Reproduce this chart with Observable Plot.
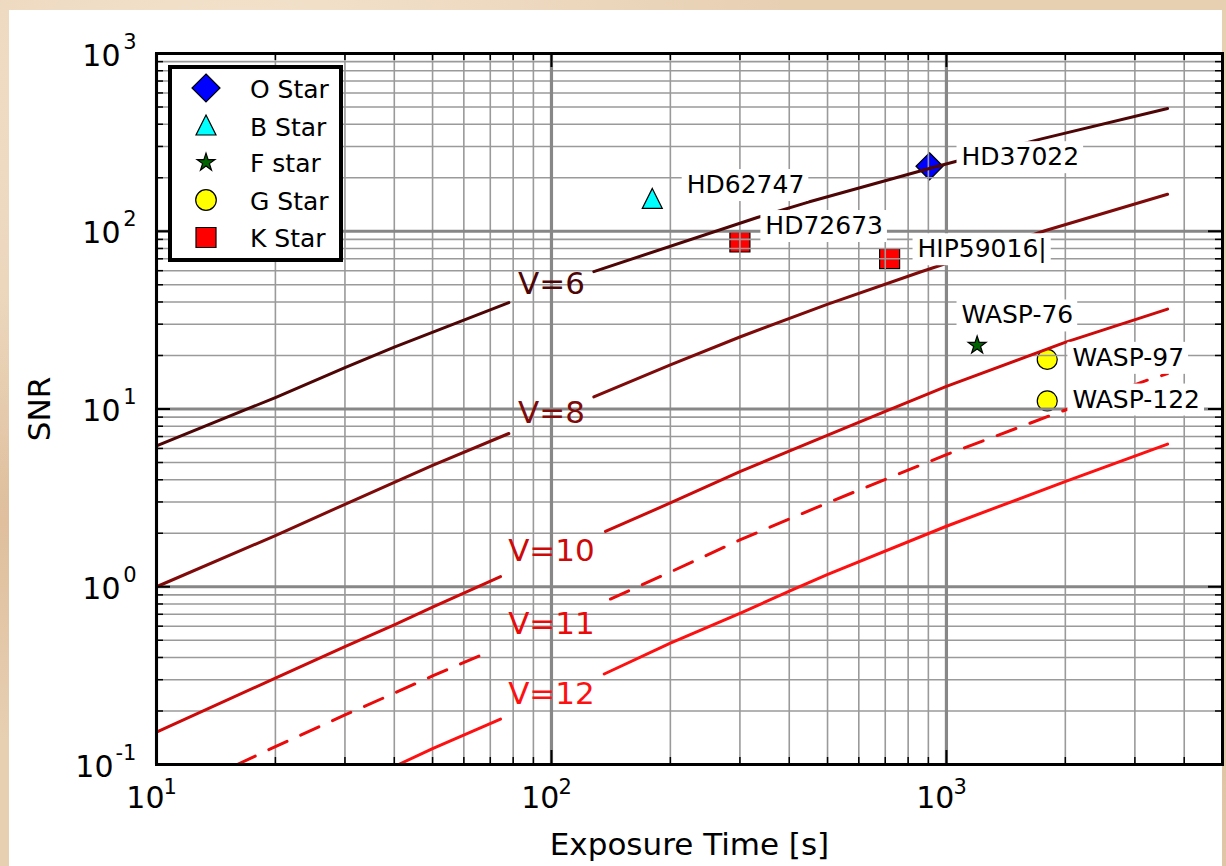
<!DOCTYPE html>
<html>
<head>
<meta charset="utf-8">
<script src="https://cdn.jsdelivr.net/npm/d3@7"></script>
<script src="https://cdn.jsdelivr.net/npm/@observablehq/plot@0.6"></script>
<style>
  html, body { margin: 0; padding: 0; }
  body {
    width: 1226px; height: 866px; overflow: hidden; position: relative;
    background-color: #e7cfb2;
    background-image:
      radial-gradient(ellipse at 20% 10%, rgba(255,245,230,0.55), rgba(255,245,230,0) 40%),
      radial-gradient(ellipse at 80% 90%, rgba(200,160,120,0.35), rgba(200,160,120,0) 45%),
      radial-gradient(ellipse at 0% 60%, rgba(215,175,135,0.5), rgba(215,175,135,0) 30%);
  }
  #card { position: absolute; left: 9px; top: 10px; width: 1213px; height: 856px; background: #ffffff; }
  #chart { position: absolute; left: 0; top: 0; width: 1226px; height: 866px; }
  #legend { position: absolute; left: 166px; top: 63px; }
</style>
</head>
<body>
<div id="card"></div>
<div id="chart"></div>
<svg id="legend" width="180" height="202"></svg>
<script>
// ---- SNR curves for stars of V magnitude 6, 8, 10, 11, 12 (null = break for the inline label)
const exposureV6  = [10, 20, 30, 40, 78, null, 128, 332, 443, 929, 1055, 1730, 3630];
const snrV6       = [6.2, 11.6, 17.1, 22.3, 39.7, null, 59.3, 119.5, 145, 229, 247, 330, 490];

const exposureV8  = [10, 20, 30, 40, 50, 78, null, 128, 200, 301, 499, 859, 1783, 3630];
const snrV8       = [1.0, 1.94, 2.91, 3.87, 4.82, 7.28, null, 11.7, 17.7, 25.5, 38.8, 59, 101, 161.5];

const exposureV10 = [10, 20, 30, 40, 50, 74.3, null, 137, 200, 301, 499, 693, 1000, 2005, 3630];
const snrV10      = [0.152, 0.306, 0.461, 0.611, 0.768, 1.14, null, 2.05, 2.96, 4.46, 7.1, 9.6, 13.4, 23.8, 36.5];

const exposureV11 = [16.0, 20, 30, 40, 50, 69.3, null, 141, 200, 301, 499, 1000, 1836, 3245, 3630];
const snrV11      = [0.1, 0.126, 0.190, 0.252, 0.315, 0.43, null, 0.853, 1.21, 1.84, 2.96, 5.54, 9.2, 14.6, 15.8];

const exposureV12 = [41, 50, 74.3, null, 136, 200, 301, 403, 499, 1000, 2005, 3630];
const snrV12      = [0.1, 0.123, 0.180, null, 0.323, 0.482, 0.711, 0.95, 1.17, 2.19, 3.92, 6.35];

const curveNames = ["V=6", "V=8", "V=10", "V=11", "V=12"];
const curveLabelExposure = [100, 100, 100, 100, 100];
const curveLabelSNR = [50.3, 9.5, 1.58, 0.62, 0.25];

// ---- observed targets
const starNames    = ["HD37022", "HD62747", "HD72673", "HIP59016|", "WASP-76", "WASP-97", "WASP-122"];
const starTypes    = ["O", "B", "K", "K", "F", "G", "G"];
const starExposure = [906, 180, 300, 718, 1196, 1800, 1800];
const starSNR      = [232, 153, 87, 70.2, 22.8, 19.0, 11.1];
const starLabelExposure = [1092, 220, 348, 845, 1092, 2084, 2084];
const starLabelSNR      = [261, 182, 107, 79.2, 33.6, 19.4, 11.3];

const legendTypes  = ["O", "B", "F", "G", "K"];
const legendLabels = ["O Star", "B Star", "F star", "G Star", "K Star"];

// ---- axes
const xTickValues = [10, 100, 1000];
const xTickExponents = ["1", "2", "3"];
const yTickValues = [0.1, 1, 10, 100, 1000];
const yTickExponents = ["-1", "0", "1", "2", "3"];

// ---- styles
const curveColors = ["#4d0505", "#7f0a0a", "#cc0a0a", "#ea0a0a", "#ff1010"];
const curveDash = [null, null, null, "20,15", null];
const FONT = "DejaVu Sans";
const NAME_INK = "#000001"; // near-black, also used to find the name labels for their boxes

const half = size => Math.sqrt(size / Math.PI);
function starPoints(R) {
  const pts = [];
  for (let i = 0; i < 10; i++) {
    const a = -Math.PI / 2 + i * Math.PI / 5;
    const r = i % 2 ? R * 0.381966 : R;
    pts.push([r * Math.cos(a), r * Math.sin(a)]);
  }
  return pts;
}
const shapes = {
  O: h => [[0, -h], [h, 0], [0, h], [-h, 0]],
  B: h => [[0, -h], [h, h], [-h, h]],
  F: h => starPoints(h),
  K: h => [[-h, -h], [h, -h], [h, h], [-h, h]]
};
const symbolOf = type => ({
  draw(c, size) {
    const h = half(size);
    if (type === "G") { c.moveTo(h, 0); c.arc(0, 0, h, 0, 2 * Math.PI); c.closePath(); return; }
    shapes[type](h).forEach(([x, y], i) => i ? c.lineTo(x, y) : c.moveTo(x, y));
    c.closePath();
  }
});
const markerStyle = {
  O: {fill: "#0000ff", r: 13.5},
  B: {fill: "#00ffff", r: 10},
  F: {fill: "#006400", r: 9.4},
  G: {fill: "#ffff00", r: 10},
  K: {fill: "#ff0000", r: 10}
};

// ---- rows built from the arrays
function curveRows(ts, ss) {
  const rows = []; let seg = 0;
  ts.forEach((t, i) => {
    if (t == null || ss[i] == null) { seg++; return; }
    rows.push({t, snr: ss[i], seg});
  });
  return rows;
}
const curves = [
  curveRows(exposureV6, snrV6),
  curveRows(exposureV8, snrV8),
  curveRows(exposureV10, snrV10),
  curveRows(exposureV11, snrV11),
  curveRows(exposureV12, snrV12)
];
const curveLabels = curveNames.map((name, i) => ({name, t: curveLabelExposure[i], snr: curveLabelSNR[i], color: curveColors[i]}));
const stars = starNames.map((name, i) => ({
  name, type: starTypes[i], t: starExposure[i], snr: starSNR[i],
  lt: starLabelExposure[i], ls: starLabelSNR[i]
}));

const minorOf = (decades, max) => decades.flatMap(d => d3.range(2, 10).map(k => k * d)).filter(v => v < max);
const xMinor = minorOf([10, 100, 1000], 5000);
const yMinor = minorOf([0.1, 1, 10, 100], 1000);
const yTicks = yTickValues.map((v, i) => ({v, e: yTickExponents[i]}));
const xTicks = xTickValues.map((v, i) => ({v, e: xTickExponents[i]}));

const frameW = 1226 - 156 - 4, frameH = 866 - 53 - 102;

const svg = Plot.plot({
  width: 1226,
  height: 866,
  marginLeft: 156,
  marginRight: 4,
  marginTop: 53,
  marginBottom: 102,
  x: {type: "log", domain: [10, 5000], axis: null},
  y: {type: "log", domain: [0.1, 1000], axis: null},
  style: {background: "transparent", fontFamily: FONT, overflow: "visible"},
  marks: [
    // target markers
    ...legendTypes.map(type => Plot.dot(stars, {
      filter: d => d.type === type, x: "t", y: "snr",
      symbol: symbolOf(type), r: markerStyle[type].r,
      fill: markerStyle[type].fill, stroke: "black", strokeWidth: 1.2
    })),
    // grid
    Plot.ruleX(xMinor, {stroke: "#9a9a9a", strokeWidth: 1.6}),
    Plot.ruleY(yMinor, {stroke: "#9a9a9a", strokeWidth: 1.6}),
    Plot.ruleX(xTickValues, {stroke: "#878787", strokeWidth: 3.2}),
    Plot.ruleY(yTickValues, {stroke: "#878787", strokeWidth: 3.2}),
    // SNR curves
    ...curves.map((rows, i) => Plot.line(rows, {
      x: "t", y: "snr", z: "seg",
      stroke: curveColors[i], strokeWidth: 3,
      strokeDasharray: curveDash[i] ?? undefined
    })),
    // target names
    Plot.text(stars, {
      x: "lt", y: "ls", text: "name", textAnchor: "start", lineAnchor: "middle",
      fontSize: 25, fill: NAME_INK
    }),
    // curve labels
    Plot.text(curveLabels, {
      x: "t", y: "snr", text: "name", fill: "color", fontSize: 31,
      textAnchor: "middle", lineAnchor: "middle"
    }),
    // inward ticks
    Plot.tickX(xMinor, {stroke: "black", strokeWidth: 1.5, insetTop: frameH - 7}),
    Plot.tickX(xMinor, {stroke: "black", strokeWidth: 1.5, insetBottom: frameH - 7}),
    Plot.tickX(xTickValues, {stroke: "black", strokeWidth: 2, insetTop: frameH - 14}),
    Plot.tickX(xTickValues, {stroke: "black", strokeWidth: 2, insetBottom: frameH - 14}),
    Plot.tickY(yMinor, {stroke: "black", strokeWidth: 1.5, insetRight: frameW - 7}),
    Plot.tickY(yMinor, {stroke: "black", strokeWidth: 1.5, insetLeft: frameW - 7}),
    Plot.tickY(yTickValues, {stroke: "black", strokeWidth: 2, insetRight: frameW - 14}),
    Plot.tickY(yTickValues, {stroke: "black", strokeWidth: 2, insetLeft: frameW - 14}),
    Plot.frame({stroke: "black", strokeWidth: 3}),
    // x tick labels 10^n
    Plot.text(xTicks, {x: "v", text: () => "10", frameAnchor: "bottom", textAnchor: "end",
      lineAnchor: "bottom", dx: 8, dy: 43, fontSize: 30, fill: "black"}),
    Plot.text(xTicks, {x: "v", text: "e", frameAnchor: "bottom", textAnchor: "start",
      lineAnchor: "bottom", dx: 7, dy: 29, fontSize: 21, fill: "black"}),
    // y tick labels 10^n
    Plot.text(yTicks, {filter: d => d.e.length === 1, y: "v", text: () => "10", frameAnchor: "left",
      textAnchor: "end", lineAnchor: "bottom", dx: -36, dy: 12, fontSize: 30, fill: "black"}),
    Plot.text(yTicks, {filter: d => d.e.length > 1, y: "v", text: () => "10", frameAnchor: "left",
      textAnchor: "end", lineAnchor: "bottom", dx: -43, dy: 12, fontSize: 30, fill: "black"}),
    Plot.text(yTicks, {y: "v", text: "e", frameAnchor: "left", textAnchor: "end",
      lineAnchor: "bottom", dx: -20, dy: -5, fontSize: 21, fill: "black"}),
    // axis titles
    Plot.text(["Exposure Time [s]"], {frameAnchor: "bottom", dy: 81, lineAnchor: "middle",
      fontSize: 31, fill: "black"}),
    Plot.text(["SNR"], {frameAnchor: "left", dx: -116, rotate: -90, lineAnchor: "middle",
      textAnchor: "middle", fontSize: 31, fill: "black"})
  ]
});
document.getElementById("chart").append(svg);

// white boxes behind the target names
svg.querySelectorAll(`g[fill="${NAME_INK}"] text`).forEach(t => {
  const b = t.getBBox();
  const r = document.createElementNS("http://www.w3.org/2000/svg", "rect");
  r.setAttribute("x", b.x - 5);
  r.setAttribute("y", b.y - 1);
  r.setAttribute("width", b.width + 9);
  r.setAttribute("height", b.height + 3);
  r.setAttribute("fill", "white");
  r.setAttribute("stroke", "none");
  const tr = t.getAttribute("transform");
  if (tr) r.setAttribute("transform", tr);
  t.parentNode.insertBefore(r, t);
});

// legend
const lg = d3.select("#legend");
lg.append("rect").attr("x", 4).attr("y", 4).attr("width", 171).attr("height", 193)
  .attr("fill", "white").attr("stroke", "black").attr("stroke-width", 4);
const legendMarkY = [25, 62, 99.5, 137, 174.5];
const legendTextY = [34.5, 72.7, 109, 146.5, 184];
const legendSize = {O: 14, B: 10, F: 9.4, G: 10.3, K: 10};
legendTypes.forEach((type, i) => {
  const g = lg.append("g").attr("transform", `translate(40,${legendMarkY[i]})`);
  const h = legendSize[type];
  const st = {fill: markerStyle[type].fill, stroke: "black", "stroke-width": 1.2};
  let el;
  if (type === "G") el = g.append("circle").attr("r", h);
  else el = g.append("path").attr("d", "M" + shapes[type](h).map(p => p.join(",")).join("L") + "Z");
  Object.entries(st).forEach(([k, v]) => el.attr(k, v));
  lg.append("text").attr("x", 84).attr("y", legendTextY[i])
    .attr("font-family", FONT).attr("font-size", 25).attr("fill", "black")
    .text(legendLabels[i]);
});
</script>
</body>
</html>
